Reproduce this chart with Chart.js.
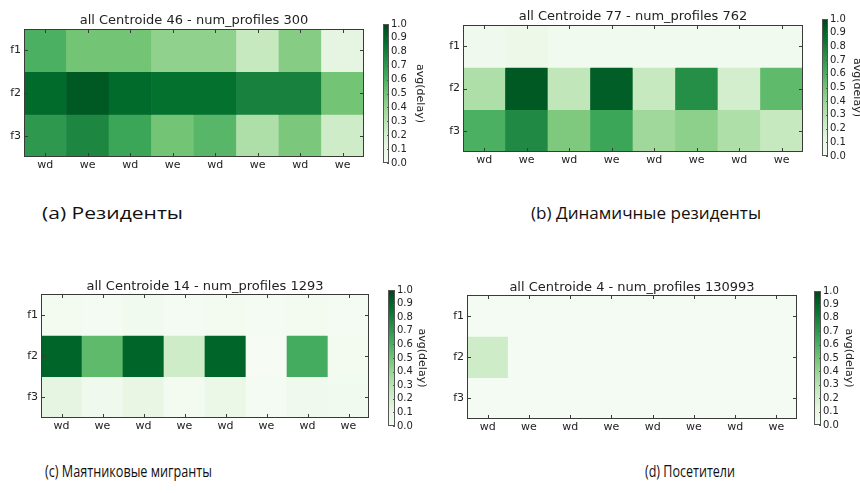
<!DOCTYPE html>
<html>
<head>
<meta charset="utf-8">
<script src="https://cdn.jsdelivr.net/npm/chart.js@4.4.1/dist/chart.umd.min.js"></script>
<style>
  html, body { margin: 0; padding: 0; background: #fff; }
  body { width: 860px; height: 493px; position: relative; overflow: hidden; }
  canvas { position: absolute; }
  .cap { position: absolute; white-space: nowrap; font-family: 'Open Sans', sans-serif;
         font-size: 17px; color: #111; transform-origin: 0 50%; line-height: 22px; }
</style>
</head>
<body>
<script>
// ---- data -------------------------------------------------------------
const rowLabels = ['f1', 'f2', 'f3'];
const dayLabels = ['wd', 'we', 'wd', 'we', 'wd', 'we', 'wd', 'we'];
const colorbarTicks = [0, 0.1, 0.2, 0.3, 0.4, 0.5, 0.6, 0.7, 0.8, 0.9, 1.0];
const colorbarLabel = 'avg(delay)';

const panelTitles = [
  'all Centroide 46 - num_profiles 300',
  'all Centroide 77 - num_profiles 762',
  'all Centroide 14 - num_profiles 1293',
  'all Centroide 4 - num_profiles 130993'
];
const panelCaptions = [
  '(a) Резиденты',
  '(b) Динамичные резиденты',
  '(c) Маятниковые мигранты',
  '(d) Посетители'
];

// avg(delay) per row (f1, f2, f3) and day column
const residentsDelay = [
  [0.60, 0.50, 0.50, 0.42, 0.42, 0.25, 0.45, 0.12],
  [0.88, 0.94, 0.88, 0.86, 0.86, 0.79, 0.79, 0.50],
  [0.70, 0.77, 0.65, 0.50, 0.57, 0.33, 0.48, 0.22]
];
const dynamicResidentsDelay = [
  [0.05, 0.07, 0.04, 0.04, 0.04, 0.04, 0.04, 0.04],
  [0.33, 0.94, 0.27, 0.92, 0.25, 0.74, 0.20, 0.55],
  [0.60, 0.76, 0.47, 0.65, 0.38, 0.43, 0.33, 0.25]
];
const commutersDelay = [
  [0.03, 0.02, 0.04, 0.02, 0.03, 0.02, 0.03, 0.02],
  [0.90, 0.55, 0.90, 0.22, 0.90, 0.01, 0.62, 0.03],
  [0.12, 0.05, 0.10, 0.03, 0.08, 0.02, 0.05, 0.04]
];
const visitorsDelay = [
  [0.02, 0.02, 0.02, 0.02, 0.02, 0.02, 0.02, 0.02],
  [0.22, 0.02, 0.02, 0.02, 0.02, 0.02, 0.02, 0.02],
  [0.02, 0.02, 0.02, 0.02, 0.02, 0.02, 0.02, 0.02]
];

// ---- colour map (Greens) ----------------------------------------------
const greensStops = ['#f7fcf5', '#e5f5e0', '#c7e9c0', '#a1d99b', '#74c476',
                     '#41ab5d', '#238b45', '#006d2c', '#00441b'];
function hexToRgb(h) {
  return [parseInt(h.slice(1, 3), 16), parseInt(h.slice(3, 5), 16), parseInt(h.slice(5, 7), 16)];
}
function greens(v) {
  const t = Math.max(0, Math.min(1, v)) * (greensStops.length - 1);
  const i = Math.min(Math.floor(t), greensStops.length - 2);
  const f = t - i;
  const a = hexToRgb(greensStops[i]), b = hexToRgb(greensStops[i + 1]);
  const c = a.map((x, k) => Math.round(x + (b[k] - x) * f));
  return `rgb(${c[0]},${c[1]},${c[2]})`;
}

// ---- layout -----------------------------------------------------------
const panels = [
  { values: residentsDelay,        plot: [24, 29, 364, 157],  bar: [383, 24, 389, 163],  titleY: 21,  barTitleX: 420, cap: [42, 213, 141] },
  { values: dynamicResidentsDelay, plot: [463, 25, 803, 152], bar: [822, 19, 828, 156],  titleY: 17,  barTitleX: 857, cap: [531, 213, 230] },
  { values: commutersDelay,        plot: [41, 294, 369, 418], bar: [388, 290, 395, 426], titleY: 287, barTitleX: 422, cap: [45, 471, 167] },
  { values: visitorsDelay,         plot: [467, 295, 797, 419], bar: [814, 291, 821, 425], titleY: 288, barTitleX: 849, cap: [645, 471, 90] }
];

const FRAME = '#3a3a3a';
const TEXT = '#222';
const tickFont = { family: 'DejaVu Sans', size: 11 };
const cbTickFont = { family: 'DejaVu Sans', size: 10 };

function addCanvas(left, top, w, h) {
  const c = document.createElement('canvas');
  c.width = w; c.height = h;
  c.style.left = left + 'px'; c.style.top = top + 'px';
  c.style.width = w + 'px'; c.style.height = h + 'px';
  document.body.appendChild(c);
  return c;
}

// frame, inward tick marks and panel title for the heatmap
const heatmapDecor = {
  id: 'heatmapDecor',
  afterDatasetsDraw(chart, args, opts) {
    const { ctx, chartArea: a, scales } = chart;
    ctx.save();
    ctx.strokeStyle = FRAME;
    ctx.lineWidth = 1;
    ctx.beginPath();
    scales.x.ticks.forEach((t, i) => {
      const x = Math.round(scales.x.getPixelForTick(i)) + 0.5;
      ctx.moveTo(x, a.bottom); ctx.lineTo(x, a.bottom - 4);
      ctx.moveTo(x, a.top); ctx.lineTo(x, a.top + 4);
    });
    scales.y.ticks.forEach(t => {
      const y = Math.round(scales.y.getPixelForValue(t.value)) + 0.5;
      ctx.moveTo(a.left, y); ctx.lineTo(a.left + 4, y);
      ctx.moveTo(a.right, y); ctx.lineTo(a.right - 4, y);
    });
    ctx.stroke();
    ctx.strokeRect(Math.round(a.left) + 0.5, Math.round(a.top) + 0.5,
                   Math.round(a.right - a.left) - 1, Math.round(a.bottom - a.top) - 1);
    ctx.fillStyle = TEXT;
    ctx.font = '13px "DejaVu Sans"';
    ctx.textAlign = 'center';
    ctx.textBaseline = 'middle';
    ctx.fillText(opts.title, (a.left + a.right) / 2, a.top - opts.titleGap);
    ctx.restore();
  }
};

// border and inward ticks of the colour bar
const colorbarDecor = {
  id: 'colorbarDecor',
  afterDatasetsDraw(chart) {
    const { ctx, chartArea: a, scales } = chart;
    ctx.save();
    ctx.strokeStyle = '#555';
    ctx.lineWidth = 1;
    ctx.strokeRect(Math.round(a.left) + 0.5, Math.round(a.top) + 0.5,
                   Math.round(a.right - a.left) - 1, Math.round(a.bottom - a.top) - 1);
    ctx.beginPath();
    scales.y.ticks.forEach(t => {
      const y = Math.round(scales.y.getPixelForValue(t.value)) + 0.5;
      ctx.moveTo(a.right, y); ctx.lineTo(a.right - 2, y);
    });
    ctx.stroke();
    ctx.restore();
  }
};

panels.forEach((p, idx) => {
  const [pl, pt, pr, pb] = p.plot;
  const yAxisW = 30, xAxisH = 20, padTop = 30, padRight = 2;
  const cv = addCanvas(pl - yAxisW, pt - padTop, (pr - pl) + yAxisW + padRight, (pb - pt) + padTop + xAxisH);

  new Chart(cv, {
    type: 'bar',
    data: {
      labels: dayLabels,
      datasets: rowLabels.map((name, r) => ({
        label: name,
        // each row occupies one unit band, f1 at the top
        data: dayLabels.map(() => [rowLabels.length - 1 - r, rowLabels.length - r]),
        backgroundColor: ctx => greens(p.values[r][ctx.dataIndex]),
        borderWidth: 0,
        barPercentage: 1,
        categoryPercentage: 1,
        grouped: false
      }))
    },
    options: {
      responsive: false,
      animation: false,
      events: [],
      layout: { padding: { top: padTop, right: padRight, left: 0, bottom: 0 } },
      plugins: {
        legend: { display: false },
        tooltip: { enabled: false },
        heatmapDecor: { title: panelTitles[idx], titleGap: pt - p.titleY }
      },
      scales: {
        x: {
          type: 'category',
          offset: true,
          grid: { display: false, drawTicks: false },
          border: { display: false },
          ticks: { font: tickFont, color: TEXT, padding: 2, maxRotation: 0, autoSkip: false },
          afterFit: s => { s.height = xAxisH; }
        },
        y: {
          type: 'linear',
          min: 0,
          max: rowLabels.length,
          grid: { display: false, drawTicks: false },
          border: { display: false },
          afterBuildTicks: s => {
            s.ticks = rowLabels.map((_, r) => ({ value: rowLabels.length - r - 0.5 }));
          },
          ticks: {
            font: tickFont, color: TEXT, padding: 3, autoSkip: false,
            callback: v => rowLabels[rowLabels.length - 1 - Math.floor(v)]
          },
          afterFit: s => { s.width = yAxisW; }
        }
      }
    },
    plugins: [heatmapDecor]
  });

  // colour bar
  const [bl, bt, br, bb] = p.bar;
  const cbPadV = 8;
  const cbAxisW = p.barTitleX - br + 6;
  const cb = addCanvas(bl, bt - cbPadV, (br - bl) + cbAxisW, (bb - bt) + 2 * cbPadV);
  new Chart(cb, {
    type: 'bar',
    data: {
      labels: [colorbarLabel],
      datasets: [{
        data: [[colorbarTicks[0], colorbarTicks[colorbarTicks.length - 1]]],
        backgroundColor: ctx => {
          const a = ctx.chart.chartArea;
          if (!a) return greens(0.5);
          const g = ctx.chart.ctx.createLinearGradient(0, a.bottom, 0, a.top);
          for (let k = 0; k <= 40; k++) g.addColorStop(k / 40, greens(k / 40));
          return g;
        },
        borderWidth: 0,
        barPercentage: 1,
        categoryPercentage: 1
      }]
    },
    options: {
      responsive: false,
      animation: false,
      events: [],
      layout: { padding: { top: cbPadV, bottom: cbPadV, left: 0, right: 0 } },
      plugins: { legend: { display: false }, tooltip: { enabled: false } },
      scales: {
        x: { display: false, offset: true },
        y: {
          position: 'right',
          min: 0,
          max: 1,
          grid: { display: false, drawTicks: false },
          border: { display: false },
          afterBuildTicks: s => { s.ticks = colorbarTicks.map(v => ({ value: v })); },
          ticks: { font: cbTickFont, color: TEXT, padding: 2, autoSkip: false, callback: v => v.toFixed(1) },
          title: {
            display: true, text: colorbarLabel, color: TEXT,
            font: { family: 'DejaVu Sans', size: 11 }, padding: { top: 0, bottom: 0 }
          },
          afterFit: s => { s.width = cbAxisW; }
        }
      }
    },
    plugins: [colorbarDecor]
  });

  // caption under the panel
  const [cl, cy, cw] = p.cap;
  const d = document.createElement('div');
  d.className = 'cap';
  d.textContent = panelCaptions[idx];
  d.style.left = cl + 'px';
  d.style.top = (cy - 11) + 'px';
  document.body.appendChild(d);
  const w = d.getBoundingClientRect().width;
  d.style.transform = `scaleX(${cw / w})`;
});
</script>
</body>
</html>
